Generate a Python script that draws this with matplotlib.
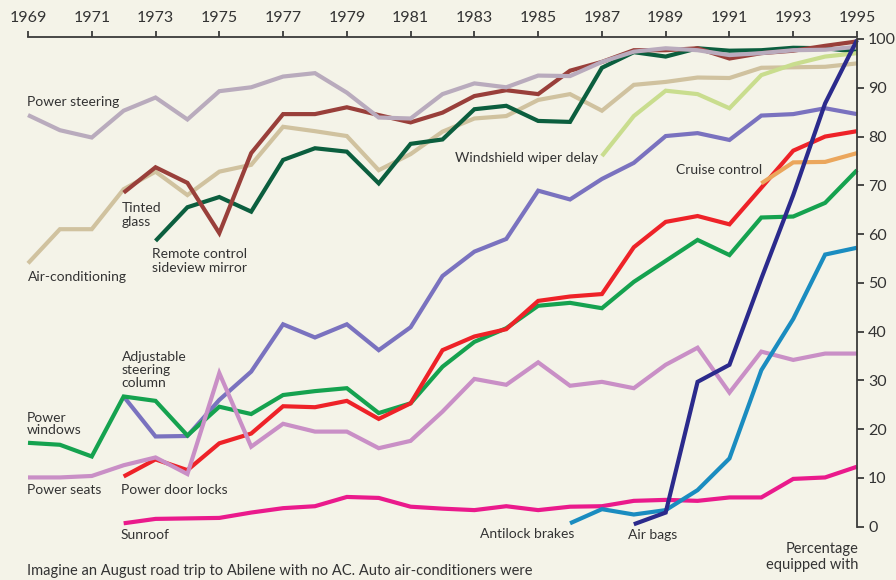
import matplotlib.pyplot as plt

BG = "#f4f3e8"
TXT = "#333333"

years = list(range(1969, 1996))

power_steering = [84.4, 81.3, 79.8, 85.3, 88.0, 83.5, 89.3, 90.1, 92.3, 93.0, 89.0, 83.9, 83.7,
                  88.7, 90.9, 90.1, 92.5, 92.4, 95.3, 97.4, 98.1, 97.7, 96.7, 97.1, 97.7, 97.8, 98.4]
air_conditioning = [54.0, 61.0, 61.0, 69.2, 72.8, 68.0, 72.8, 74.2, 82.0, 81.1, 80.1, 73.1, 76.4,
                    81.0, 83.7, 84.2, 87.5, 88.7, 85.3, 90.6, 91.2, 92.1, 92.0, 94.1, 94.2, 94.3, 95.0]
# series starting in 1972
tinted_glass = [68.5, 73.7, 70.5, 60.2, 76.6, 84.6, 84.6, 86.0, 84.4, 82.9, 84.9, 88.3, 89.5,
                88.7, 93.5, 95.3, 97.7, 97.7, 98.1, 96.0, 97.1, 97.6, 98.6, 99.5]
# from 1973
remote_mirror = [58.6, 65.5, 67.6, 64.6, 75.2, 77.6, 76.9, 70.4, 78.5, 79.4, 85.6, 86.3, 83.2,
                 83.0, 94.1, 97.3, 96.4, 98.1, 97.6, 97.7, 98.2, 98.1, 97.4]
# from 1987
wiper_delay = [76.0, 84.2, 89.4, 88.7, 85.8, 92.6, 94.8, 96.4, 97.1]
# from 1972
steering_column = [26.7, 18.5, 18.6, 26.0, 31.8, 41.5, 38.8, 41.5, 36.2, 40.9, 51.4, 56.4, 59.0,
                   68.9, 67.1, 71.3, 74.6, 80.1, 80.7, 79.3, 84.3, 84.6, 85.8, 84.6]
power_windows = [17.2, 16.8, 14.4, 26.7, 25.8, 18.7, 24.6, 23.1, 27.0, 27.8, 28.4, 23.3, 25.3,
                 32.8, 37.9, 40.7, 45.3, 45.9, 44.8, 50.2, 54.5, 58.8, 55.7, 63.4, 63.6, 66.4, 73.1]
# from 1972
door_locks = [10.3, 13.8, 11.6, 17.1, 19.1, 24.7, 24.5, 25.8, 22.1, 25.3, 36.2, 39.0, 40.5,
              46.3, 47.2, 47.7, 57.3, 62.5, 63.7, 62.0, 69.5, 77.1, 80.0, 81.1]
# from 1992
cruise_control = [70.4, 74.7, 74.8, 76.6]
power_seats = [10.1, 10.1, 10.4, 12.6, 14.2, 10.8, 31.5, 16.4, 21.1, 19.5, 19.5, 16.1, 17.6,
               23.6, 30.3, 29.1, 33.7, 28.9, 29.7, 28.4, 33.2, 36.7, 27.5, 35.9, 34.2, 35.5, 35.5]
# from 1972
sunroof = [0.7, 1.6, 1.7, 1.8, 2.9, 3.8, 4.2, 6.1, 5.9, 4.1, 3.7, 3.4, 4.2, 3.4, 4.1, 4.2,
           5.3, 5.5, 5.3, 6.0, 6.0, 9.8, 10.1, 12.3]
# from 1986
antilock = [0.7, 3.6, 2.5, 3.4, 7.5, 14.0, 32.1, 42.6, 55.8, 57.2]
# from 1988
air_bags = [0.5, 2.9, 29.7, 33.2, 50.9, 68.0, 86.8, 99.8]

series = [
    (air_conditioning, 1969, "#d0c29f"),
    (remote_mirror, 1973, "#0b5e3e"),
    (tinted_glass, 1972, "#993f3a"),
    (power_steering, 1969, "#b9abbd"),
    (wiper_delay, 1987, "#c9dd8e"),
    (steering_column, 1972, "#7a72bf"),
    (power_windows, 1969, "#15a24f"),
    (door_locks, 1972, "#ee2228"),
    (cruise_control, 1992, "#eba65c"),
    (power_seats, 1969, "#c98fc6"),
    (sunroof, 1972, "#ea1a8c"),
    (antilock, 1986, "#1a8cc0"),
    (air_bags, 1988, "#2b2a8c"),
]

labels = [
    ("Power steering", 26.7, 102),
    ("Tinted\nglass", 121.5, 215),
    ("Remote control\nsideview mirror", 152.5, 261),
    ("Air-conditioning", 28, 277),
    ("Windshield wiper delay", 455, 158),
    ("Cruise control", 675.5, 170),
    ("Adjustable\nsteering\ncolumn", 121.5, 370),
    ("Power\nwindows", 26.7, 424),
    ("Power seats", 26.7, 489.5),
    ("Power door locks", 120.5, 489.5),
    ("Sunroof", 120.5, 535),
    ("Antilock brakes", 480, 534),
    ("Air bags", 628, 535),
]

W, H = 896, 580
fig = plt.figure(figsize=(W / 100, H / 100), dpi=100, facecolor=BG)
plt.rcParams['font.family'] = ['Lato', 'DejaVu Sans']
ax = fig.add_axes([28 / W, 1 - 526.7 / H, (857 - 28) / W, (526.7 - 39) / H])
ax.set_facecolor(BG)

for vals, start, color in series:
    xs = list(range(start, start + len(vals)))
    ax.plot(xs, vals, color=color, lw=3.0, solid_joinstyle='miter', solid_capstyle='butt',
            clip_on=False)

ax.set_xlim(1969, 1995)
ax.set_ylim(0, 100)
for s in ["left", "bottom"]:
    ax.spines[s].set_visible(False)
for s in ["top", "right"]:
    ax.spines[s].set_color("#3a3a3a")
    ax.spines[s].set_linewidth(1.3)
ax.spines["top"].set_position(("data", 100.4))

ax.xaxis.tick_top()
ax.set_xticks(range(1969, 1996, 2))
ax.tick_params(axis='x', direction='out', length=4.5, width=1.3, color="#3a3a3a",
               labelsize=11.5, labelcolor=TXT, pad=4)
ax.yaxis.tick_right()
ax.set_yticks(range(0, 101, 10))
ax.tick_params(axis='y', direction='out', length=5, width=1.3, color="#3a3a3a",
               labelsize=11.5, labelcolor=TXT, pad=3)

for text, px, py in labels:
    fig.text(px / W, 1 - py / H, text, ha='left', va='center', fontsize=10,
             color=TXT, linespacing=1.1)

fig.text(858 / W, 1 - 557 / H, "Percentage\nequipped with", ha='right', va='center',
         fontsize=10.5, color=TXT, linespacing=1.1)
fig.text(26.7 / W, 1 - 564 / H,
         "Imagine an August road trip to Abilene with no AC. Auto air-conditioners were",
         ha='left', va='top', fontsize=10.5, color=TXT)

fig.savefig("out.png", dpi=100, facecolor=BG)
